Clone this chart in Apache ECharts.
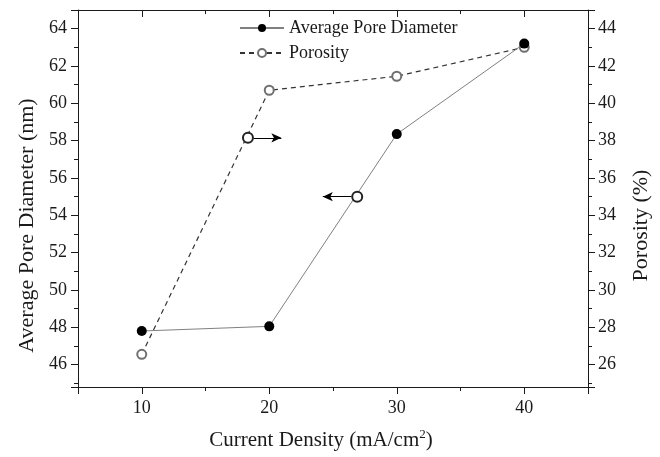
<!DOCTYPE html>
<html>
<head>
<meta charset="utf-8">
<script src="https://cdn.jsdelivr.net/npm/echarts@6/dist/echarts.min.js"></script>
<style>
  html, body { margin: 0; padding: 0; background: #fff; }
  #main { width: 660px; height: 457px; }
</style>
</head>
<body>
<div id="main"></div>
<script>
// data
var currentDensity = [10, 20, 30, 40];
var poreDiameter = [47.8, 48.05, 58.35, 63.2];   // nm, left axis
var porosity = [26.55, 40.7, 41.45, 43.0];        // %, right axis

// arrow annotations: [x, y] of circle, x of arrow tip
var poroMark = [18.33, 38.15];
var poroArrowTip = 20.95;
var poreMark = [26.9, 55.0];
var poreArrowTip = 24.2;

var font = 'Liberation Serif';
var ink = '#1a1a1a';

function pairs(xs, ys) {
  var out = [];
  for (var i = 0; i < xs.length; i++) out.push([xs[i], ys[i]]);
  return out;
}

var myChart = echarts.init(document.getElementById('main'));

var tickStyle = { color: ink, width: 1 };

var option = {
  animation: false,
  backgroundColor: '#fff',
  grid: { left: 78, right: 72, top: 10, bottom: 70 },
  legend: {
    orient: 'vertical',
    left: 234,
    top: 14,
    itemWidth: 44,
    itemHeight: 10,
    itemGap: 7,
    textStyle: { fontFamily: font, fontSize: 18, color: ink },
    data: ['Average Pore Diameter', 'Porosity']
  },
  xAxis: [{
    type: 'value',
    min: 5, max: 45, splitNumber: 4,
    position: 'bottom',
    name: 'Current Density (mA/cm{sup|2})',
    nameLocation: 'middle',
    nameGap: 41,
    nameTextStyle: {
      fontFamily: font, fontSize: 21, color: ink,
      padding: [0, 24, 0, 0],
      rich: { sup: { fontFamily: font, fontSize: 13, color: ink, verticalAlign: 'top', padding: [0, 0, 11, 0] } }
    },
    axisLine: { show: true, onZero: false, lineStyle: tickStyle },
    axisTick: { show: true, inside: false, length: 7, lineStyle: tickStyle },
    minorTick: { show: true, splitNumber: 2, length: 4, lineStyle: tickStyle },
    splitLine: { show: false },
    axisLabel: { fontFamily: font, fontSize: 18, color: ink, margin: 12,
      showMinLabel: false, showMaxLabel: false }
  }, {
    type: 'value',
    min: 5, max: 45, splitNumber: 4,
    position: 'top',
    axisLine: { show: true, onZero: false, lineStyle: tickStyle },
    axisTick: { show: true, inside: true, length: 7, lineStyle: tickStyle },
    minorTick: { show: true, splitNumber: 2, length: 4, lineStyle: tickStyle },
    splitLine: { show: false },
    axisLabel: { show: false }
  }],
  yAxis: [{
    type: 'value',
    min: 44.8, max: 65.0, splitNumber: 10,
    position: 'left',
    name: 'Average Pore Diameter (nm)',
    nameLocation: 'middle',
    nameGap: 40,
    nameTextStyle: { fontFamily: font, fontSize: 22, color: ink, padding: [0, 54, 0, 0] },
    axisLine: { show: true, onZero: false, lineStyle: tickStyle },
    axisTick: { show: true, inside: false, length: 7, lineStyle: tickStyle },
    minorTick: { show: true, splitNumber: 2, length: 4, lineStyle: tickStyle },
    splitLine: { show: false },
    axisLabel: { fontFamily: font, fontSize: 18, color: ink, margin: 11,
      showMinLabel: false, showMaxLabel: false }
  }, {
    type: 'value',
    min: 24.8, max: 45.0, splitNumber: 10,
    position: 'right',
    name: 'Porosity (%)',
    nameLocation: 'middle',
    nameGap: 42,
    nameTextStyle: { fontFamily: font, fontSize: 22, color: ink, padding: [0, 54, 0, 0] },
    axisLine: { show: true, onZero: false, lineStyle: tickStyle },
    axisTick: { show: true, inside: false, length: 7, lineStyle: tickStyle },
    minorTick: { show: true, splitNumber: 2, length: 4, lineStyle: tickStyle },
    splitLine: { show: false },
    axisLabel: { fontFamily: font, fontSize: 18, color: ink, margin: 10,
      showMinLabel: false, showMaxLabel: false }
  }],
  series: [{
    name: 'Average Pore Diameter',
    type: 'line',
    xAxisIndex: 0, yAxisIndex: 0,
    data: pairs(currentDensity, poreDiameter),
    symbol: 'circle',
    symbolSize: 10,
    itemStyle: { color: '#000', borderWidth: 0 },
    lineStyle: { color: '#808080', width: 1 },
    z: 3,
    markPoint: {
      symbol: 'emptyCircle',
      symbolSize: 10,
      itemStyle: { color: '#222', borderWidth: 1.3 },
      label: { show: false },
      data: [{ coord: poreMark }]
    },
    markLine: {
      silent: true,
      symbol: ['none', 'arrow'],
      symbolSize: [7, 10],
      lineStyle: { color: '#000', width: 1, type: 'solid' },
      label: { show: false },
      data: [[{ coord: [poreMark[0] - 0.45, poreMark[1]] }, { coord: [poreArrowTip, poreMark[1]] }]]
    }
  }, {
    name: 'Porosity',
    type: 'line',
    xAxisIndex: 0, yAxisIndex: 1,
    data: pairs(currentDensity, porosity),
    symbol: 'emptyCircle',
    symbolSize: 9,
    itemStyle: { color: '#707070', borderWidth: 1 },
    lineStyle: { color: '#333', width: 1.2, type: [5, 4] },
    z: 2,
    markPoint: {
      symbol: 'emptyCircle',
      symbolSize: 10,
      itemStyle: { color: '#222', borderWidth: 1.3 },
      label: { show: false },
      data: [{ coord: poroMark }]
    },
    markLine: {
      silent: true,
      symbol: ['none', 'arrow'],
      symbolSize: [7, 10],
      lineStyle: { color: '#000', width: 1, type: 'solid' },
      label: { show: false },
      data: [[{ coord: [poroMark[0] + 0.45, poroMark[1]] }, { coord: [poroArrowTip, poroMark[1]] }]]
    }
  }]
};

myChart.setOption(option);
</script>
</body>
</html>
